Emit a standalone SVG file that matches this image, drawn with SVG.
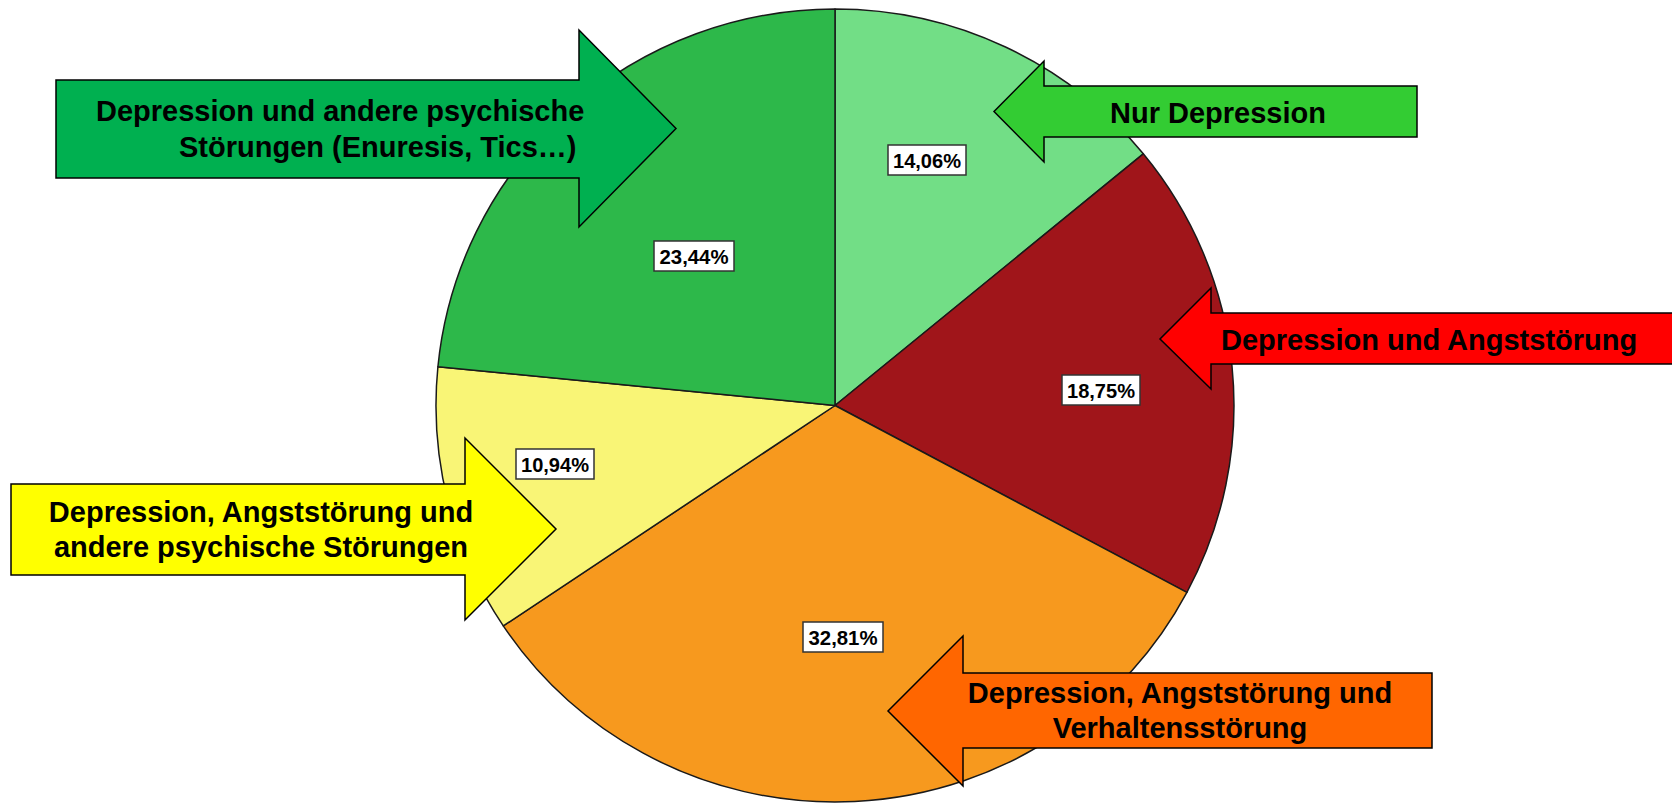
<svg xmlns="http://www.w3.org/2000/svg" width="1672" height="804" viewBox="0 0 1672 804">
<defs>
<style>
.slice{stroke:#1a1a1a;stroke-width:1.5;stroke-linejoin:round}
.arrow{stroke:#000;stroke-width:1.5;stroke-linejoin:miter}
.lbl{font-family:"Liberation Sans",Arial,sans-serif;font-weight:bold;font-size:29px;fill:#000}
.pbox{fill:#fff;stroke:#333;stroke-width:1.5}
.ptxt{font-family:"Liberation Sans",Arial,sans-serif;font-weight:bold;font-size:21px;fill:#000;text-anchor:middle}
</style>
</defs>
<rect width="1672" height="804" fill="#fff"/>
<g id="pie">
<g id="slice-nur-depression"><path class="slice" fill="#72DE86" d="M835,405.5 L835,9 A399,396.5 0 0 1 1143.3,153.8 Z"/></g>
<g id="slice-angst"><path class="slice" fill="#A0151A" d="M835,405.5 L1143.3,153.8 A399,396.5 0 0 1 1186.9,592.3 Z"/></g>
<g id="slice-verhalten"><path class="slice" fill="#F7991E" d="M835,405.5 L1186.9,592.3 A399,396.5 0 0 1 503.3,625.9 Z"/></g>
<g id="slice-angst-andere"><path class="slice" fill="#F9F576" d="M835,405.5 L503.3,625.9 A399,396.5 0 0 1 437.9,366.7 Z"/></g>
<g id="slice-andere"><path class="slice" fill="#2DB84A" d="M835,405.5 L437.9,366.7 A399,396.5 0 0 1 835,9 Z"/></g>
</g>
<g id="connectors"></g>
<g id="arrow-andere">
<path class="arrow" fill="#00B050" d="M56,80 L579,80 L579,30 L676,128.5 L579,227 L579,178 L56,178 Z"/>
<text class="lbl" x="96" y="121">Depression und andere psychische</text>
<text class="lbl" x="179" y="157">Störungen (Enuresis, Tics…)</text>
</g>
<g id="arrow-nur">
<path class="arrow" fill="#33CC33" d="M1417,86 L1044,86 L1044,61 L994,111.5 L1044,162 L1044,137 L1417,137 Z"/>
<text class="lbl" x="1110" y="123">Nur Depression</text>
</g>
<g id="arrow-angst">
<path class="arrow" fill="#FF0000" d="M1674,313 L1211,313 L1211,288 L1160,339 L1211,389 L1211,364 L1674,364 Z"/>
<text class="lbl" x="1221" y="350">Depression und Angststörung</text>
</g>
<g id="arrow-angst-andere">
<path class="arrow" fill="#FFFF00" d="M11,484 L465,484 L465,438 L556,529 L465,620 L465,575 L11,575 Z"/>
<text class="lbl" x="261" y="522" text-anchor="middle">Depression, Angststörung und</text>
<text class="lbl" x="261" y="557" text-anchor="middle">andere psychische Störungen</text>
</g>
<g id="arrow-verhalten">
<path class="arrow" fill="#FF6600" d="M1432,673 L963,673 L963,636 L888,711 L963,786 L963,748 L1432,748 Z"/>
<text class="lbl" x="1180" y="703" text-anchor="middle">Depression, Angststörung und</text>
<text class="lbl" x="1180" y="738" text-anchor="middle">Verhaltensstörung</text>
</g>
<g id="pct-1406"><rect class="pbox" x="888" y="145" width="78" height="30"/><text class="ptxt" x="927" y="168" textLength="68" lengthAdjust="spacingAndGlyphs">14,06%</text></g>
<g id="pct-2344"><rect class="pbox" x="654" y="241" width="80" height="30"/><text class="ptxt" x="694" y="264" textLength="69" lengthAdjust="spacingAndGlyphs">23,44%</text></g>
<g id="pct-1875"><rect class="pbox" x="1062" y="375" width="78" height="30"/><text class="ptxt" x="1101" y="398" textLength="68" lengthAdjust="spacingAndGlyphs">18,75%</text></g>
<g id="pct-1094"><rect class="pbox" x="516" y="449" width="78" height="30"/><text class="ptxt" x="555" y="472" textLength="68" lengthAdjust="spacingAndGlyphs">10,94%</text></g>
<g id="pct-3281"><rect class="pbox" x="803" y="622" width="80" height="30"/><text class="ptxt" x="843" y="645" textLength="69" lengthAdjust="spacingAndGlyphs">32,81%</text></g>
</svg>
